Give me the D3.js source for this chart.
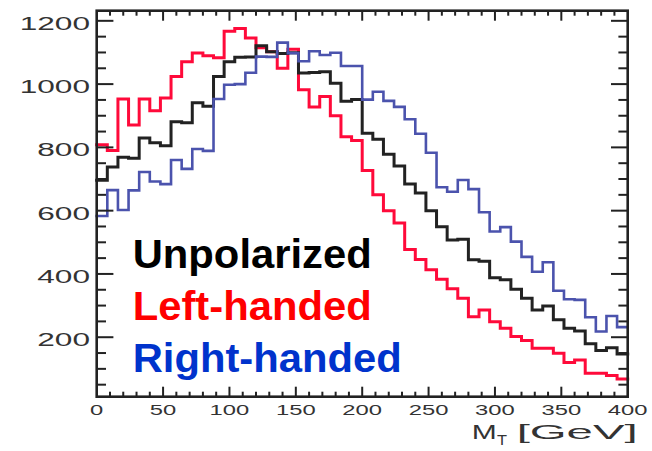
<!DOCTYPE html>
<html>
<head>
<meta charset="utf-8">
<script src="https://cdn.jsdelivr.net/npm/d3@7/dist/d3.min.js"></script>
<style>
html,body{margin:0;padding:0;background:#fff;}
svg{display:block;}
text{font-family:"Liberation Sans",Arial,Helvetica,sans-serif;}
</style>
</head>
<body>
<svg id="chart" width="652" height="451"></svg>
<script>
// ---- data (bins of 8 GeV from 0 to 400) ----
const binEdgesStart = 0, binWidth = 8;
const unpolarized = [696,738,769,766,830,815,805,881,878,941,930,1024,1071,1085,1086,1121,1102,1097,1099,1035,1037,1039,1003,946,951,845,826,778,741,684,656,600,549,507,510,445,440,388,382,352,323,286,299,255,228,220,179,158,167,147];
const leftHanded = [808,790,953,871,953,916,956,1024,1071,1098,1090,1083,1167,1176,1146,1115,1102,1050,1110,982,928,961,900,834,822,727,650,600,561,477,446,413,383,353,323,265,286,249,228,202,190,165,165,149,120,128,86,86,79,68];
const rightHanded = [583,665,602,664,722,692,684,760,732,795,789,953,998,1000,1036,1087,1086,1131,1098,1072,1104,1092,1099,1057,1057,951,976,947,928,889,843,783,674,660,697,668,595,534,548,502,454,407,437,347,320,318,263,218,267,232];
const xTickLabels = [0,50,100,150,200,250,300,350,400];
const yTickLabels = [200,400,600,800,1000,1200];
const legendLabels = ["Unpolarized","Left-handed","Right-handed"];

const svg = d3.select("#chart");
const L = 96.7, R = 627.7, T = 10.7, B = 396.7;
const x = d3.scaleLinear().domain([0,400]).range([L,R]);
const y = d3.scaleLinear().domain([12,1232]).range([B,T]);

// ---- histograms ----
function stepData(vals){
  const pts = vals.map((v,i)=>[binEdgesStart+i*binWidth, v]);
  pts.push([binEdgesStart+vals.length*binWidth, vals[vals.length-1]]);
  return pts;
}
const line = d3.line().x(d=>x(d[0])).y(d=>y(d[1])).curve(d3.curveStepAfter);
const series = [
  {vals:leftHanded, color:"#ff0a3a", w:3},
  {vals:unpolarized, color:"#222222", w:3},
  {vals:rightHanded, color:"#4b53ad", w:2.6}
];
series.forEach(s=>{
  svg.append("path").attr("d", line(stepData(s.vals)))
    .attr("fill","none").attr("stroke",s.color).attr("stroke-width",s.w)
    .attr("stroke-linejoin","miter").attr("stroke-linecap","square");
});

// ---- frame and ticks ----
const axisColor = "#222";
const g = svg.append("g").attr("stroke",axisColor);
d3.range(50,1201,50).forEach(v=>{
  const major = v%200===0;
  const len = major?16.7:9.3;
  g.append("line").attr("x1",L).attr("x2",L+len).attr("y1",y(v)).attr("y2",y(v)).attr("stroke-width",2);
  g.append("line").attr("x1",R).attr("x2",R-len).attr("y1",y(v)).attr("y2",y(v)).attr("stroke-width",2);
});
d3.range(10,400,10).forEach(v=>{
  const major = v%50===0;
  const len = major?10:5;
  g.append("line").attr("x1",x(v)).attr("x2",x(v)).attr("y1",B).attr("y2",B-len).attr("stroke-width",2);
  g.append("line").attr("x1",x(v)).attr("x2",x(v)).attr("y1",T).attr("y2",T+len).attr("stroke-width",2);
});
g.append("rect").attr("x",L).attr("y",T).attr("width",R-L).attr("height",B-T)
  .attr("fill","none").attr("stroke-width",2.6);

// ---- tick labels ----
yTickLabels.forEach(v=>{
  svg.append("text").attr("transform",`translate(90,${y(v)+9}) scale(1.7,1)`)
    .attr("text-anchor","end").attr("font-size",18.6).attr("fill","#333").text(v);
});
xTickLabels.forEach(v=>{
  svg.append("text").attr("transform",`translate(${x(v)},415) scale(1.7,1)`)
    .attr("text-anchor","middle").attr("font-size",14).attr("fill","#333").text(v);
});

// ---- axis title ----
svg.append("text").attr("x",471.7).attr("y",439).attr("font-size",21)
  .attr("textLength",25).attr("lengthAdjust","spacingAndGlyphs").attr("fill","#333").text("M");
svg.append("text").attr("x",497).attr("y",445).attr("font-size",14)
  .attr("textLength",10).attr("lengthAdjust","spacingAndGlyphs").attr("fill","#333").text("T");
svg.append("text").attr("x",516.7).attr("y",439).attr("font-size",21)
  .attr("textLength",121).attr("lengthAdjust","spacingAndGlyphs").attr("fill","#333").text("[GeV]");

// ---- legend ----
const legendColors = ["#000000","#ff0000","#0033cc"];
const legendBase = [268.3,320,371.7];
const legendWidth = [239,239,269];
legendLabels.forEach((t,i)=>{
  svg.append("text").attr("x",132.7).attr("y",legendBase[i])
    .attr("font-size",41.5).attr("font-weight","bold").attr("fill",legendColors[i])
    .attr("textLength",legendWidth[i]).attr("lengthAdjust","spacingAndGlyphs").text(t);
});
</script>
</body>
</html>
